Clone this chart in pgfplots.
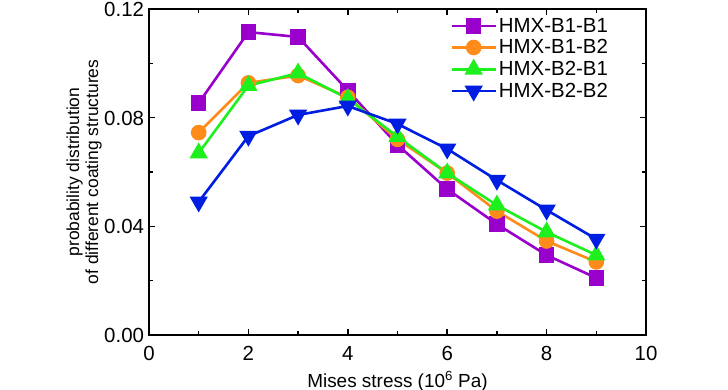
\documentclass[border=0pt]{standalone}
\usepackage{pgfplots}
\pgfplotsset{compat=1.18}
\usepackage{fontspec}
\setmainfont{Liberation Sans}
\definecolor{cpurple}{RGB}{153,0,204}
\definecolor{corange}{RGB}{255,140,26}
\definecolor{cgreen}{RGB}{30,240,30}
\definecolor{cblue}{RGB}{0,30,225}
\begin{document}
\begin{tikzpicture}
\useasboundingbox (-149bp,-55bp) rectangle (579bp,335bp);
\begin{axis}[
  at={(0,0)}, anchor=south west,
  scale only axis,
  width=497bp, height=326bp,
  xmin=0, xmax=10, ymin=0, ymax=0.12,
  xtick={0,2,4,6,8,10},
  ytick={0,0.04,0.08,0.12},
  minor xtick={1,3,5,7,9},
  minor ytick={0.02,0.06,0.10},
  yticklabel style={/pgf/number format/fixed,/pgf/number format/fixed zerofill,/pgf/number format/precision=2, xshift=-3.8bp, yshift=-0.5bp},
  /pgf/number format/assume math mode=true,
  scaled y ticks=false,
  tick align=inside,
  major tick length=6bp, minor tick length=4bp,
  tick style={black, line width=1.5bp},
  axis line style={line width=2.5bp},
  ticklabel style={font=\fontsize{20.5}{23}\selectfont, inner sep=1bp},
  xticklabel style={yshift=-10bp},
  xlabel={Mises stress (10\textsuperscript{6} Pa)},
  xlabel style={font=\fontsize{19}{22}\selectfont, at={(axis description cs:0.5,0)}, anchor=north, yshift=-33bp},
  ylabel={probability distribution\\of different coating structures},
  ylabel style={font=\fontsize{17.5}{19}\selectfont, align=center, yshift=-2bp},
  legend style={at={(0.6,0.985)}, anchor=north west, draw=none, fill=none,
    font=\fontsize{20.5}{23}\selectfont, row sep=2bp},
  legend cell align=left,
  legend image code/.code={\draw[mark repeat=2,mark phase=2] plot coordinates {(0bp,0bp)(22bp,0bp)(44bp,0bp)};},
  every axis plot/.append style={line width=2.6bp},
]
\addplot[cpurple, mark=square*, mark size=6.5bp, mark options={solid}] coordinates {
(1,0.0854)(2,0.1115)(3,0.1097)(4,0.0900)(5,0.0700)(6,0.0537)(7,0.0408)(8,0.0294)(9,0.0210)};
\addlegendentry{HMX-B1-B1}
\addplot[corange, mark=*, mark size=6.5bp] coordinates {
(1,0.0745)(2,0.0928)(3,0.0955)(4,0.0875)(5,0.0720)(6,0.0596)(7,0.0456)(8,0.0346)(9,0.0269)};
\addlegendentry{HMX-B1-B2}
\addplot[cgreen, mark=triangle*, mark size=8bp] coordinates {
(1,0.0670)(2,0.0918)(3,0.0964)(4,0.0870)(5,0.0730)(6,0.0596)(7,0.0478)(8,0.0379)(9,0.0294)};
\addlegendentry{HMX-B2-B1}
\addplot[cblue, mark=triangle*, mark size=8bp, mark options={rotate=180}] coordinates {
(1,0.0490)(2,0.0732)(3,0.0810)(4,0.0843)(5,0.0777)(6,0.0685)(7,0.0570)(8,0.0460)(9,0.0353)};
\addlegendentry{HMX-B2-B2}
\end{axis}
\end{tikzpicture}
\end{document}
